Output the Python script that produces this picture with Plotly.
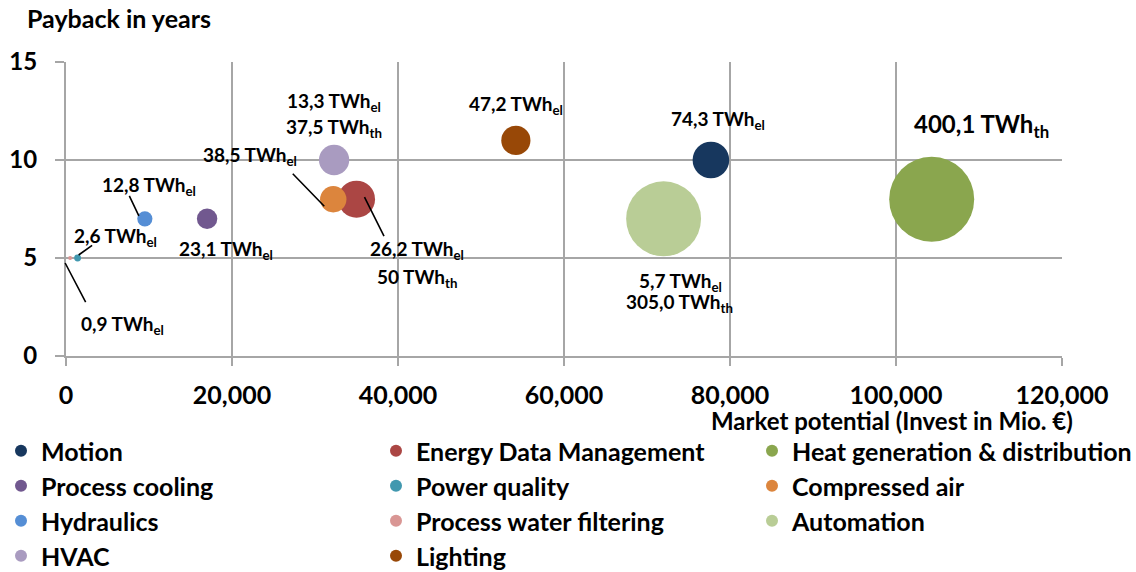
import plotly.graph_objects as go

# ---------------- data ----------------
categories = ["Motion", "Energy Data Management", "Heat generation & distribution",
              "Process cooling", "Power quality", "Compressed air",
              "Hydraulics", "Process water filtering", "Automation",
              "HVAC", "Lighting"]
invest = [77700, 35000, 104300, 17000, 1400, 32200, 9500, 500, 72000, 32300, 54200]
payback = [10, 8, 8, 7, 5, 8, 7, 5, 7, 10, 11]
twh_el = [74.3, 26.2, 0.0, 23.1, 2.6, 38.5, 12.8, 0.9, 5.7, 13.3, 47.2]
twh_th = [0.0, 50.0, 400.1, 0.0, 0.0, 0.0, 0.0, 0.0, 305.0, 37.5, 0.0]
total_twh = [e + t for e, t in zip(twh_el, twh_th)]

label_point = [0, 1, 1, 2, 3, 4, 5, 6, 7, 8, 8, 9, 9, 10]
label_text = ["74,3 TWh<sub>el</sub>",
              "26,2 TWh<sub>el</sub>", "50 TWh<sub>th</sub>",
              "400,1 TWh<sub>th</sub>",
              "23,1 TWh<sub>el</sub>",
              "2,6 TWh<sub>el</sub>",
              "38,5 TWh<sub>el</sub>",
              "12,8 TWh<sub>el</sub>",
              "0,9 TWh<sub>el</sub>",
              "5,7 TWh<sub>el</sub>", "305,0 TWh<sub>th</sub>",
              "13,3 TWh<sub>el</sub>", "37,5 TWh<sub>th</sub>",
              "47,2 TWh<sub>el</sub>"]

x_ticks = [0, 20000, 40000, 60000, 80000, 100000, 120000]
y_ticks = [0, 5, 10, 15]

# ---------------- styles ----------------
colors = ["#17375E", "#AB4644", "#8AA64E", "#71588F", "#4198AF", "#DC853D",
          "#558ED5", "#D99694", "#B9CD96", "#A99BC0", "#984807"]
# legend grid position of each category (row, column)
legend_row = [0, 0, 0, 1, 1, 1, 2, 2, 2, 3, 3]
legend_col = [0, 1, 2, 0, 1, 2, 0, 1, 2, 0, 1]
legend_col_x = [1, 376, 752]          # px from left
legend_row_y = [451, 486, 521, 556]   # px from top

# label offsets (pixels, screen coordinates: +x right, +y down) and font size
label_dx = [7, 60, 60, 50, 19, 38, -83, 4, 52, 17, 16, 0, 0, 0]
label_dy = [-40, 51, 79, -74, 31, -21, -43, -33, 67, 63, 84, -58, -32, -35]
label_size = [19, 19, 19, 24, 19, 19, 19, 19, 19, 19, 19, 19, 19, 19]

# leader lines: point index, head shift from bubble centre, tail offset from head
leader_point = [6, 4, 7, 5, 1]
leader_hx = [-6, 1, -5, -9, 8]
leader_hy = [-3, -3, 5, 7, -2]
leader_tx = [-10, 14, 21, -32, 20]
leader_ty = [-21, -10, 40, -33, 40]

FONT = "Lato, 'Open Sans', sans-serif"
GRID = "#A6A6A6"
MAX_D = 85
W, H = 1136, 572

fig = go.Figure()
sizeref = 2.0 * max(total_twh) / (MAX_D ** 2)
legends = {}
for i, name in enumerate(categories):
    leg = "legend" if i == 0 else "legend%d" % (i + 1)
    fig.add_trace(go.Scatter(
        x=[invest[i]], y=[payback[i]], mode="markers", name=name,
        marker=dict(size=[total_twh[i]], sizemode="area", sizeref=sizeref,
                    color=colors[i], line=dict(width=0), opacity=1),
        legend=leg, hoverinfo="name+x+y"))
    legends[leg] = dict(
        orientation="v", xref="container", yref="container",
        x=legend_col_x[legend_col[i]] / W, xanchor="left",
        y=1 - legend_row_y[legend_row[i]] / H, yanchor="middle",
        itemsizing="constant", bgcolor="rgba(0,0,0,0)", borderwidth=0,
        font=dict(family=FONT, size=25, color="#000000", weight="bold"),
        itemclick=False, itemdoubleclick=False)

annotations = []
for k, p in enumerate(label_point):
    annotations.append(dict(
        x=invest[p], y=payback[p], xref="x", yref="y", text=label_text[k],
        showarrow=False, xanchor="center", yanchor="middle",
        xshift=label_dx[k], yshift=-label_dy[k],
        font=dict(family=FONT, size=label_size[k], color="#000000", weight="bold")))

for k, p in enumerate(leader_point):
    annotations.append(dict(
        x=invest[p], y=payback[p], xref="x", yref="y", text=" ",
        font=dict(size=1), showarrow=True, arrowhead=0, arrowwidth=1.6,
        arrowcolor="#000000", ax=leader_tx[k], ay=leader_ty[k],
        xshift=leader_hx[k], yshift=-leader_hy[k], standoff=0, borderpad=0))

annotations.append(dict(
    text="Payback in years", xref="paper", yref="paper", x=0, y=1,
    xshift=-41, yshift=44, xanchor="left", yanchor="middle", showarrow=False,
    font=dict(family=FONT, size=25, color="#000000", weight="bold")))
annotations.append(dict(
    text="Market potential (Invest in Mio. €)", xref="paper", yref="paper",
    x=1, y=0, xshift=13, yshift=-64, xanchor="right", yanchor="middle",
    showarrow=False,
    font=dict(family=FONT, size=24, color="#000000", weight="bold")))

fig.update_layout(
    width=W, height=H,
    margin=dict(l=66, r=74, t=62, b=216, autoexpand=False),
    paper_bgcolor="white", plot_bgcolor="white",
    font=dict(family=FONT, color="#000000"),
    showlegend=True,
    annotations=annotations,
    xaxis=dict(range=[0, 120000], tickvals=x_ticks, tickformat=",",
               showgrid=True, gridcolor=GRID, gridwidth=2,
               showline=True, linecolor=GRID, linewidth=2, mirror=False,
               ticks="outside", ticklen=8, tickcolor=GRID, tickwidth=2,
               zeroline=False, ticklabelstandoff=8,
               tickfont=dict(family=FONT, size=25, color="#000000", weight="bold")),
    yaxis=dict(range=[0, 15], tickvals=y_ticks,
               showgrid=True, gridcolor=GRID, gridwidth=2,
               showline=True, linecolor=GRID, linewidth=2,
               ticks="outside", ticklen=9, tickcolor=GRID, tickwidth=2,
               zeroline=False, ticklabelstandoff=13,
               tickfont=dict(family=FONT, size=24, color="#000000", weight="bold")),
    **legends)

fig.write_html("out.html", config={"displayModeBar": False},
               post_script="document.body.style.margin='0';")
